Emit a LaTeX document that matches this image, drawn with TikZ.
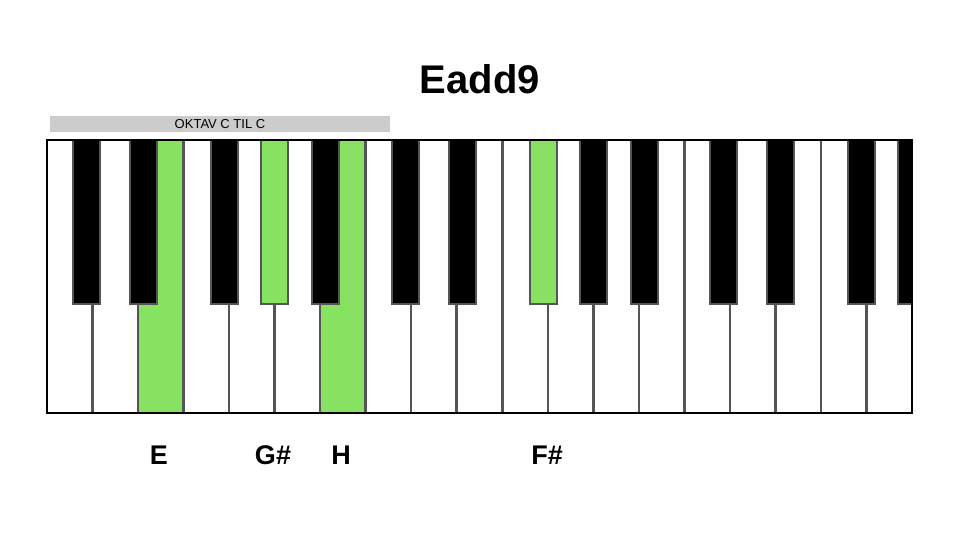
\documentclass[tikz,border=0pt]{standalone}
\usepackage{fontspec}
\setmainfont{Liberation Sans}
\definecolor{keygreen}{RGB}{136,226,98}
\definecolor{keygray}{RGB}{85,85,85}
\definecolor{barcol}{RGB}{204,204,204}
\begin{document}
\begin{tikzpicture}[x=1pt,y=-1pt,
  whitekey/.style={fill=white,draw=none},
  divider/.style={draw=keygray,line width=2.5pt},
  blackkey/.style={fill=black,draw=keygray,line width=1.8pt},
  greenblack/.style={fill=keygreen,draw=keygray,line width=1.8pt},
  greenwhite/.style={fill=keygreen,draw=none},
  label/.style={font=\bfseries\fontsize{27}{30}\selectfont,inner sep=0pt},
  title/.style={font=\bfseries\fontsize{40}{44}\selectfont,inner sep=0pt}]
\useasboundingbox[fill=white] (0,0) rectangle (960,540);
\def\W{45.526}
\def\L{47}
% title
\node[title] (title) at (480,79) {Eadd9};
% octave bar
\fill[barcol] (50,116) rectangle (390,132);
\node[font=\fontsize{13}{14}\selectfont,inner sep=0pt] (oktav) at (220,124.5) {OKTAV C TIL C};
% white keys
\fill[white] (\L,140) rectangle (912,413);
\fill[keygreen] ({\L+2*\W},140) rectangle ({\L+3*\W},413);
\fill[keygreen] ({\L+6*\W},140) rectangle ({\L+7*\W},413);
\foreach \i in {1,...,18} {
  \draw[divider] ({\L+\i*\W},140) -- ({\L+\i*\W},413);
}
% black keys
\begin{scope}
\clip (\L,139) rectangle (912,414);
\foreach \o in {0,1,2} {
  \foreach \x in {73,130,211,261,312} {
    \pgfmathsetmacro{\xx}{\x+\o*318.68}
    \draw[blackkey] (\xx,140) rectangle (\xx+27,304);
  }
}
\draw[greenblack] (261,140) rectangle (288,304);
\draw[greenblack] (529.7,140) rectangle (556.7,304);
\end{scope}
% border
\draw[black,line width=2pt] (\L,140) rectangle (912,413);
% labels
\node[label] (lE) at (159,455) {E};
\node[label] (lGis) at (273,455) {G\#};
\node[label] (lH) at (341,455) {H};
\node[label] (lFis) at (547,455) {F\#};
\end{tikzpicture}
\end{document}
